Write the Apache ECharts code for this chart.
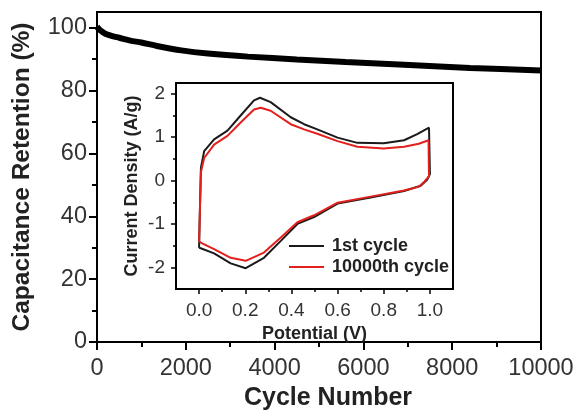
<!DOCTYPE html>
<html><head><meta charset="utf-8">
<script src="https://cdn.jsdelivr.net/npm/echarts@6/dist/echarts.min.js"></script>
<style>html,body{margin:0;padding:0;background:#fff}#c{width:578px;height:410px}</style>
</head><body><div id="c"></div>
<script>
// Main chart: capacitance retention vs cycle number
const cycles    = [0, 50, 100, 200, 350, 500, 750, 1000, 1350, 1900, 2500, 3400, 4500, 5600, 6800, 8400, 10000];
const retention = [100.3, 99.5, 98.9, 98.0, 97.3, 96.8, 95.9, 95.3, 94.2, 92.8, 91.8, 90.8, 89.9, 89.1, 88.3, 87.2, 86.4];
const mainYTicks = [0, 20, 40, 60, 80, 100];
const mainYMinor = [10, 30, 50, 70, 90];

// Inset: cyclic voltammetry
const cvX1 = [0, 0.003, 0.008, 0.022, 0.065, 0.123, 0.18, 0.238, 0.264, 0.31, 0.397, 0.455, 0.512, 0.6, 0.686, 0.8, 0.888, 0.945, 0.996, 1.0, 0.988, 0.96, 0.888, 0.743, 0.6, 0.498, 0.426, 0.354, 0.281, 0.202, 0.137, 0.065, 0.007, 0];
const cvY1 = [-1.55, -0.8, 0.3, 0.68, 0.95, 1.15, 1.50, 1.85, 1.91, 1.81, 1.46, 1.30, 1.18, 0.99, 0.87, 0.86, 0.93, 1.07, 1.22, 0.15, 0.02, -0.12, -0.24, -0.39, -0.53, -0.84, -1.0, -1.39, -1.78, -2.02, -1.91, -1.68, -1.56, -1.55];
const cvX2 = [0, 0.003, 0.008, 0.022, 0.065, 0.123, 0.18, 0.238, 0.267, 0.31, 0.397, 0.455, 0.512, 0.6, 0.686, 0.8, 0.888, 0.952, 0.994, 0.996, 0.977, 0.952, 0.888, 0.743, 0.6, 0.498, 0.426, 0.354, 0.281, 0.202, 0.137, 0.065, 0.007, 0];
const cvY2 = [-1.40, -0.8, 0.2, 0.52, 0.83, 1.03, 1.34, 1.64, 1.68, 1.61, 1.30, 1.18, 1.08, 0.91, 0.78, 0.74, 0.78, 0.85, 0.93, 0.1, -0.02, -0.14, -0.23, -0.37, -0.51, -0.80, -0.96, -1.31, -1.66, -1.85, -1.78, -1.58, -1.43, -1.40];
const insetXTicks = [0, 0.2, 0.4, 0.6, 0.8, 1.0];
const insetXMinor = [0.1, 0.3, 0.5, 0.7, 0.9];
const insetYTicks = [-2, -1, 0, 1, 2];
const insetYMinor = [-1.5, -0.5, 0.5, 1.5];
const seriesNames = ['1st cycle', '10000th cycle'];

const FONT = 'Liberation Sans, Arial, sans-serif';
const chart = echarts.init(document.getElementById('c'));
const pair = (xs, ys) => xs.map((x, i) => [x, ys[i]]);
const lineAx = { show: true, onZero: false, lineStyle: { color: '#000', width: 2 } };
const noLine = { show: false, onZero: false };

chart.setOption({
  animation: false,
  backgroundColor: '#fff',
  textStyle: { fontFamily: FONT },
  grid: [
    { left: 97, right: 37, top: 12, bottom: 68, containLabel: false, outerBoundsMode: 'none',
      show: true, borderColor: '#000', borderWidth: 2, backgroundColor: 'transparent' },
    { left: 176, right: 125, top: 83, bottom: 121, containLabel: false, outerBoundsMode: 'none',
      show: true, borderColor: '#000', borderWidth: 2, backgroundColor: '#fff' }
  ],
  legend: {
    data: seriesNames,
    orient: 'vertical',
    left: 289, top: 237, padding: 0,
    itemWidth: 35, itemHeight: 2, itemGap: 3,
    icon: 'rect',
    textStyle: { fontFamily: FONT, fontSize: 18, fontWeight: 'bold', color: '#222', lineHeight: 18, padding: [0, 0, 0, 3] }
  },
  xAxis: [
    { type: 'value', gridIndex: 0, min: 0, max: 10000, interval: 2000,
      name: 'Cycle Number', nameLocation: 'middle', nameGap: 44,
      nameTextStyle: { fontFamily: FONT, fontSize: 25, fontWeight: 'bold', color: '#222', padding: [0, 0, 0, 18] },
      axisLine: lineAx,
      axisTick: { show: true, inside: false, length: 8, lineStyle: { color: '#000', width: 2 } },
      minorTick: { show: true, splitNumber: 2, length: 5, lineStyle: { color: '#000', width: 2 } },
      axisLabel: { fontFamily: FONT, fontSize: 23.5, color: '#333', margin: 15, formatter: v => String(v) },
      splitLine: { show: false }, minorSplitLine: { show: false } },
    { type: 'value', gridIndex: 1, min: -0.1, max: 1.1,
      name: 'Potential (V)', nameLocation: 'middle', nameGap: 25,
      nameTextStyle: { fontFamily: FONT, fontSize: 18, fontWeight: 'bold', color: '#222' },
      axisLine: lineAx,
      axisTick: { show: true, length: 5, customValues: insetXTicks, lineStyle: { color: '#000', width: 1.5 } },
      axisLabel: { fontFamily: FONT, fontSize: 19, color: '#333', margin: 12, customValues: insetXTicks, formatter: v => v.toFixed(1) },
      splitLine: { show: false } },
    { type: 'value', gridIndex: 1, min: -0.1, max: 1.1, position: 'bottom',
      axisLine: noLine,
      axisTick: { show: true, length: 3, customValues: insetXMinor, lineStyle: { color: '#000', width: 1.5 } },
      axisLabel: { show: false }, splitLine: { show: false } }
  ],
  yAxis: [
    { type: 'value', gridIndex: 0, min: 0, max: 105,
      name: 'Capacitance Retention (%)', nameLocation: 'middle', nameGap: 62,
      nameTextStyle: { fontFamily: FONT, fontSize: 24.5, fontWeight: 'bold', color: '#222' },
      axisLine: lineAx,
      axisTick: { show: true, length: 8, customValues: mainYTicks, lineStyle: { color: '#000', width: 2 } },
      axisLabel: { fontFamily: FONT, fontSize: 23.5, color: '#333', margin: 10, customValues: mainYTicks },
      splitLine: { show: false } },
    { type: 'value', gridIndex: 0, min: 0, max: 105, position: 'left',
      axisLine: noLine,
      axisTick: { show: true, length: 5, customValues: mainYMinor, lineStyle: { color: '#000', width: 2 } },
      axisLabel: { show: false }, splitLine: { show: false } },
    { type: 'value', gridIndex: 1, min: -2.5, max: 2.25,
      name: 'Current Density (A/g)', nameLocation: 'middle', nameGap: 35,
      nameTextStyle: { fontFamily: FONT, fontSize: 18, fontWeight: 'bold', color: '#222' },
      axisLine: lineAx,
      axisTick: { show: true, length: 5, customValues: insetYTicks, lineStyle: { color: '#000', width: 1.5 } },
      axisLabel: { fontFamily: FONT, fontSize: 19, color: '#333', margin: 11, customValues: insetYTicks },
      splitLine: { show: false } },
    { type: 'value', gridIndex: 1, min: -2.5, max: 2.25, position: 'left',
      axisLine: noLine,
      axisTick: { show: true, length: 3, customValues: insetYMinor, lineStyle: { color: '#000', width: 1.5 } },
      axisLabel: { show: false }, splitLine: { show: false } }
  ],
  series: [
    { type: 'line', name: 'retention', xAxisIndex: 0, yAxisIndex: 0, data: pair(cycles, retention),
      smooth: 0.3, showSymbol: false, lineStyle: { color: '#000', width: 6 }, itemStyle: { color: '#000' } },
    { type: 'line', name: seriesNames[0], xAxisIndex: 1, yAxisIndex: 2, data: pair(cvX1, cvY1),
      showSymbol: false, lineStyle: { color: '#1a1a1a', width: 2 }, itemStyle: { color: '#1a1a1a' } },
    { type: 'line', name: seriesNames[1], xAxisIndex: 1, yAxisIndex: 2, data: pair(cvX2, cvY2),
      showSymbol: false, lineStyle: { color: '#e3201c', width: 2 }, itemStyle: { color: '#e3201c' } }
  ]
});
</script></body></html>
